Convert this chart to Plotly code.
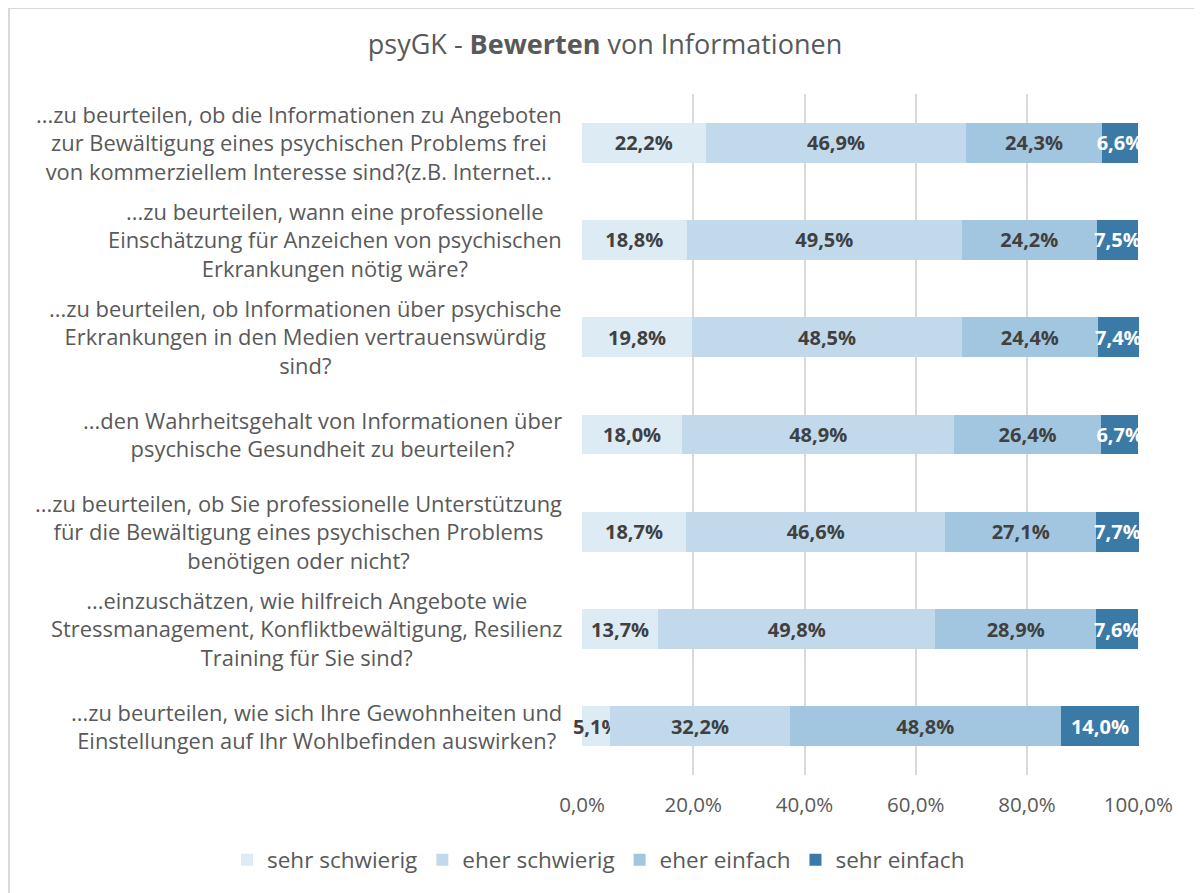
import plotly.graph_objects as go

categories = [
    "...zu beurteilen, ob die Informationen zu Angeboten<br>zur Bewältigung eines psychischen Problems frei<br>von kommerziellem Interesse sind?(z.B. Internet...",
    "...zu beurteilen, wann eine professionelle<br>Einschätzung für Anzeichen von psychischen<br>Erkrankungen nötig wäre?",
    "...zu beurteilen, ob Informationen über psychische<br>Erkrankungen in den Medien vertrauenswürdig<br>sind?",
    "...den Wahrheitsgehalt von Informationen über<br>psychische Gesundheit zu beurteilen?",
    "...zu beurteilen, ob Sie professionelle Unterstützung<br>für die Bewältigung eines psychischen Problems<br>benötigen oder nicht?",
    "...einzuschätzen, wie hilfreich Angebote wie<br>Stressmanagement, Konfliktbewältigung, Resilienz<br>Training für Sie sind?",
    "...zu beurteilen, wie sich Ihre Gewohnheiten und<br>Einstellungen auf Ihr Wohlbefinden auswirken?",
]
cat_ids = [f"c{i}" for i in range(len(categories))]

series_names = ["sehr schwierig", "eher schwierig", "eher einfach", "sehr einfach"]
sehr_schwierig = [22.2, 18.8, 19.8, 18.0, 18.7, 13.7, 5.1]
eher_schwierig = [46.9, 49.5, 48.5, 48.9, 46.6, 49.8, 32.2]
eher_einfach = [24.3, 24.2, 24.4, 26.4, 27.1, 28.9, 48.8]
sehr_einfach = [6.6, 7.5, 7.4, 6.7, 7.7, 7.6, 14.0]
series_values = [sehr_schwierig, eher_schwierig, eher_einfach, sehr_einfach]

x_ticks = [0, 20, 40, 60, 80, 100]
x_ticktext = [f"{v:.1f}%".replace(".", ",") for v in x_ticks]

colors = ["#DDEBF5", "#C1D9EA", "#A2C6DF", "#3B7AA6"]
text_colors = ["#404040", "#404040", "#404040", "#FFFFFF"]

FONT = "Open Sans"
W, H = 1194, 885
L, R, T, B = 574, 63, 86, 118
PW, PH = W - L - R, H - T - B

fig = go.Figure()
for name, vals, col, tcol in zip(series_names, series_values, colors, text_colors):
    fig.add_trace(go.Bar(
        y=cat_ids, x=vals, name=name, orientation="h",
        marker=dict(color=col, line=dict(width=0)),
        texttemplate="%{x:.1f}%", textposition="inside", textangle=0,
        insidetextanchor="middle", constraintext="none",
        textfont=dict(family=FONT, size=20, color=tcol, weight="bold"),
        cliponaxis=False,
    ))

for cid, label in zip(cat_ids, categories):
    fig.add_annotation(
        x=0, xref="paper", xanchor="right", xshift=-18,
        y=cid, yref="y", yanchor="middle",
        text=label, align="center", showarrow=False,
        font=dict(family=FONT, size=21.9, color="#595959"),
    )

# chart border (top and left edges visible)
fig.add_shape(type="line", xref="paper", yref="paper",
              x0=-L / PW, x1=(W - L) / PW, y0=1 + T / PH, y1=1 + T / PH,
              line=dict(color="#D9D9D9", width=2), layer="below")
fig.add_shape(type="line", xref="paper", yref="paper",
              x0=-(L - 1) / PW, x1=-(L - 1) / PW, y0=-B / PH, y1=1 + T / PH,
              line=dict(color="#D9D9D9", width=2), layer="below")

fig.update_layout(
    width=W, height=H,
    paper_bgcolor="white", plot_bgcolor="white",
    barmode="stack", bargap=0.59,
    separators=",.",
    margin=dict(l=L, r=R, t=T, b=B, pad=0, autoexpand=False),
    title=dict(text="psyGK - <b>Bewerten</b> von Informationen",
               x=(605 - 8) / W, xref="container", xanchor="center",
               y=1 - 37 / H, yanchor="middle",
               font=dict(family=FONT, size=27, color="#595959")),
    xaxis=dict(range=[0, 100.12], tickmode="array", tickvals=x_ticks, ticktext=x_ticktext,
               showgrid=True, gridcolor="#D9D9D9", gridwidth=1.5,
               zeroline=False, showline=False, ticks="",
               ticklabelstandoff=15, automargin=False,
               tickfont=dict(family=FONT, size=20.5, color="#595959")),
    yaxis=dict(categoryorder="array", categoryarray=cat_ids, autorange="reversed",
               showticklabels=False, showgrid=False, zeroline=False, showline=False,
               automargin=False),
    legend=dict(orientation="h", x=(219 - L) / PW, xref="paper", xanchor="left",
                y=-(852 - (T + PH)) / PH, yref="paper", yanchor="middle",
                font=dict(family=FONT, size=22.5, color="#595959"),
                traceorder="normal", itemwidth=30),
    font=dict(family=FONT),
)

fig.write_html("out.html")
